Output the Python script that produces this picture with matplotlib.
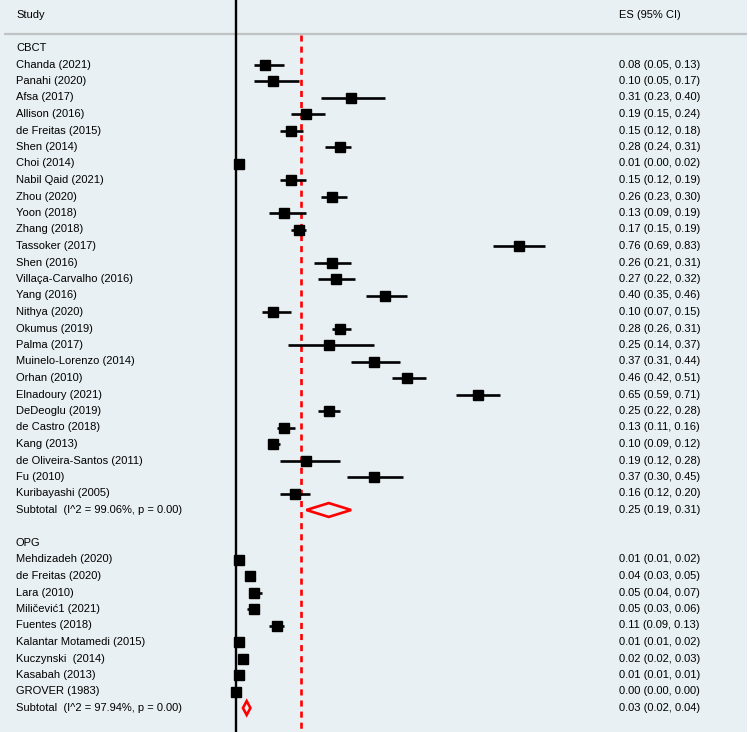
import matplotlib
matplotlib.use('Agg')
import matplotlib.pyplot as plt
from matplotlib.patches import Polygon, Rectangle

plt.rcParams['font.family'] = ['Liberation Sans', 'DejaVu Sans']

# CBCT group
cbct_studies = ['Chanda (2021)', 'Panahi (2020)', 'Afsa (2017)', 'Allison (2016)',
                'de Freitas (2015)', 'Shen (2014)', 'Choi (2014)', 'Nabil Qaid (2021)',
                'Zhou (2020)', 'Yoon (2018)', 'Zhang (2018)', 'Tassoker (2017)',
                'Shen (2016)', 'Villaça-Carvalho (2016)', 'Yang (2016)', 'Nithya (2020)',
                'Okumus (2019)', 'Palma (2017)', 'Muinelo-Lorenzo (2014)', 'Orhan (2010)',
                'Elnadoury (2021)', 'DeDeoglu (2019)', 'de Castro (2018)', 'Kang (2013)',
                'de Oliveira-Santos (2011)', 'Fu (2010)', 'Kuribayashi (2005)']
cbct_es = [0.08, 0.10, 0.31, 0.19, 0.15, 0.28, 0.01, 0.15, 0.26, 0.13, 0.17, 0.76,
           0.26, 0.27, 0.40, 0.10, 0.28, 0.25, 0.37, 0.46, 0.65, 0.25, 0.13, 0.10,
           0.19, 0.37, 0.16]
cbct_lo = [0.05, 0.05, 0.23, 0.15, 0.12, 0.24, 0.00, 0.12, 0.23, 0.09, 0.15, 0.69,
           0.21, 0.22, 0.35, 0.07, 0.26, 0.14, 0.31, 0.42, 0.59, 0.22, 0.11, 0.09,
           0.12, 0.30, 0.12]
cbct_hi = [0.13, 0.17, 0.40, 0.24, 0.18, 0.31, 0.02, 0.19, 0.30, 0.19, 0.19, 0.83,
           0.31, 0.32, 0.46, 0.15, 0.31, 0.37, 0.44, 0.51, 0.71, 0.28, 0.16, 0.12,
           0.28, 0.45, 0.20]
cbct_sub = (0.25, 0.19, 0.31)
cbct_i2 = 99.06

# OPG group
opg_studies = ['Mehdizadeh (2020)', 'de Freitas (2020)', 'Lara (2010)', 'Miličević1 (2021)',
               'Fuentes (2018)', 'Kalantar Motamedi (2015)', 'Kuczynski  (2014)',
               'Kasabah (2013)', 'GROVER (1983)']
opg_es = [0.01, 0.04, 0.05, 0.05, 0.11, 0.01, 0.02, 0.01, 0.00]
opg_lo = [0.01, 0.03, 0.04, 0.03, 0.09, 0.01, 0.02, 0.01, 0.00]
opg_hi = [0.02, 0.05, 0.07, 0.06, 0.13, 0.02, 0.03, 0.01, 0.00]
opg_sub = (0.03, 0.02, 0.04)
opg_i2 = 97.94

overall_es = 0.175

groups = [('CBCT', cbct_studies, cbct_es, cbct_lo, cbct_hi, cbct_sub, cbct_i2),
          ('OPG', opg_studies, opg_es, opg_lo, opg_hi, opg_sub, opg_i2)]

bg = '#e9f0f3'
fig = plt.figure(figsize=(7.5, 7.32), dpi=100)
fig.patch.set_facecolor(bg)
ax = fig.add_axes([0, 0, 1, 1])
ax.set_facecolor(bg)

# pixel-based mapping: ES 0 at x=235.5 px, 373 px per unit; rows 16.5 px apart
px_per_unit = 373.0
x0 = 235.5
ax.set_xlim(-x0 / px_per_unit, (750 - x0) / px_per_unit)
row_h = 16.5
ax.set_ylim((732 - 48) / row_h, -48 / row_h)
ax.axis('off')

tx = ax.get_yaxis_transform()  # x in axes fraction, y in data
lab_x = 16 / 750
es_x = 619 / 750
fs = 8

# header
ax.text(lab_x, -2.0, 'Study', transform=tx, ha='left', va='center', fontsize=fs)
ax.text(es_x, -2.0, 'ES (95% CI)', transform=tx, ha='left', va='center', fontsize=fs)
ax.plot([4 / 750, 747 / 750], [-0.87, -0.87], transform=tx, color='#c0c3c5', lw=1.6,
        solid_capstyle='butt')

row = 0
for name, studies, es, lo, hi, sub, i2 in groups:
    ax.text(lab_x, row, name, transform=tx, ha='left', va='center', fontsize=fs)
    row += 1
    for s, e, l, h in zip(studies, es, lo, hi):
        ax.text(lab_x, row, s, transform=tx, ha='left', va='center', fontsize=fs)
        ax.text(es_x, row, f'{e:.2f} ({l:.2f}, {h:.2f})', transform=tx,
                ha='left', va='center', fontsize=fs)
        ax.plot([l, h], [row, row], color='black', lw=1.9, solid_capstyle='butt', zorder=3)
        ax.plot(e, row, 's', color='black', ms=6.8, zorder=4)
        row += 1
    se, sl, sh = sub
    ax.text(lab_x, row, f'Subtotal  (I^2 = {i2:.2f}%, p = 0.00)', transform=tx,
            ha='left', va='center', fontsize=fs)
    ax.text(es_x, row, f'{se:.2f} ({sl:.2f}, {sh:.2f})', transform=tx,
            ha='left', va='center', fontsize=fs)
    dh = 0.42
    ax.add_patch(Polygon([(sl, row), (se, row - dh), (sh, row), (se, row + dh)],
                         closed=True, fill=False, edgecolor='#ff0000', lw=1.9, zorder=4))
    row += 2

# reference lines
ax.axvline(0, color='black', lw=1.7, zorder=2)
ax.plot([overall_es, overall_es], [-0.78, (732 - 48) / row_h], color='#ff0000', lw=1.9,
        dashes=(2.3, 1.9), zorder=2)

# thin white strip at the right edge
fig.patches.append(Rectangle((747 / 750, 0), 3 / 750, 1, transform=fig.transFigure,
                             facecolor='white', edgecolor='none', zorder=0))

fig.savefig('out.png', dpi=100, facecolor=bg)
